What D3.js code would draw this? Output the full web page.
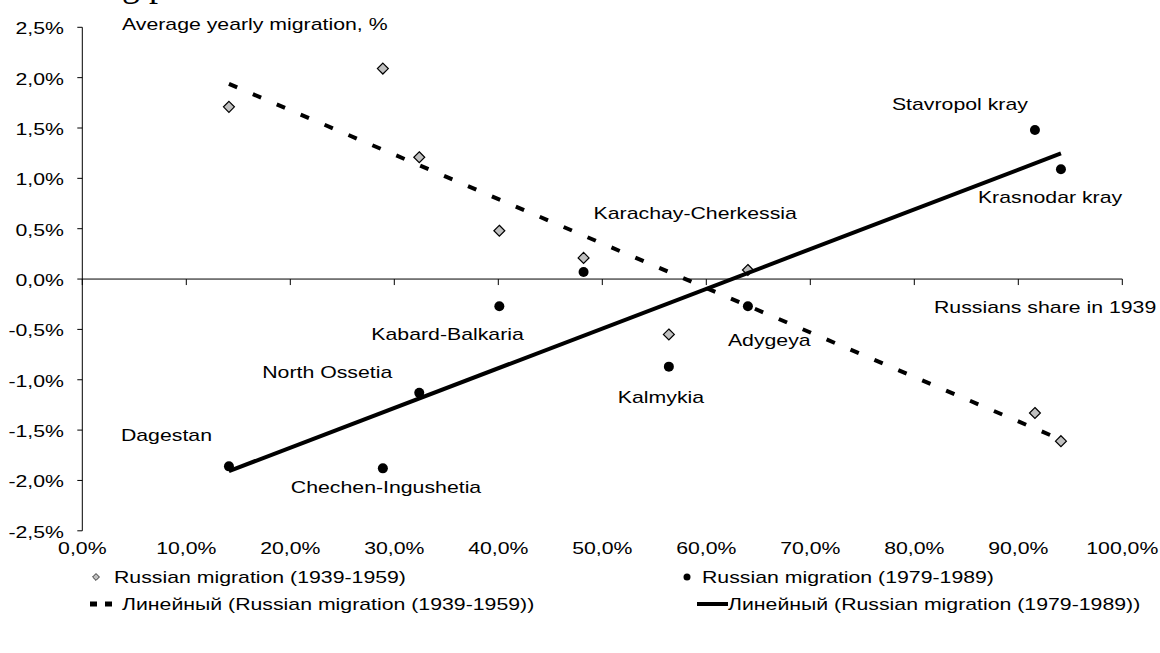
<!DOCTYPE html>
<html>
<head>
    <meta charset="utf-8">
    <style>
        body {
            margin: 0;
            background: white;
        }
        svg {
            display: block;
            font-family: 'Liberation Sans', Arial, sans-serif;
        }
    </style>
</head>
<body>
    <svg width="1160" height="653"></svg>

<script src="https://d3js.org/d3.v7.min.js"></script>
<script>
    // values
    let regions = ["Dagestan", "Chechen-Ingushetia", "North Ossetia", "Kabard-Balkaria",
        "Karachay-Cherkessia", "Kalmykia", "Adygeya", "Stavropol kray", "Krasnodar kray"]
    let russiansShare1939 = [14.1, 28.9, 32.4, 40.1, 48.2, 56.4, 64.0, 91.6, 94.1]
    let migration1939 = [1.71, 2.09, 1.21, 0.48, 0.21, -0.55, 0.09, -1.33, -1.61]
    let migration1979 = [-1.86, -1.88, -1.13, -0.27, 0.07, -0.87, -0.27, 1.48, 1.09]
    let xTicks = [0, 10, 20, 30, 40, 50, 60, 70, 80, 90, 100]
    let yTicks = [2.5, 2, 1.5, 1, 0.5, 0, -0.5, -1, -1.5, -2, -2.5]
    let legendLabels = ["Russian migration (1939-1959)", "Russian migration (1979-1989)",
        "Линейный (Russian migration (1939-1959))", "Линейный (Russian migration (1979-1989))"]

    // where each region name sits, relative to its 1979-1989 point
    let labelOffsets = [[-108, -25], [-92, 25], [-157, -15], [-128, 34], [10, -53],
        [-51, 36], [-20, 40], [-143, -20], [-83, 34]]

    let svg = d3.select("svg")
    let stretch = 1.33   // the original picture is wider than it is tall

    let x = d3.scaleLinear().domain([0, 100]).range([82.3, 1122.3])
    let y = d3.scaleLinear().domain([-2.5, 2.5]).range([530.8, 27.3])

    // excel style: comma decimals and a plain hyphen for minus
    let fmt = v => d3.format(".1f")(v).replace("−", "-").replace(".", ",") + "%"

    function label(g, txt, px, py, anchor, size) {
        return g.append("text")
            .attr("transform", `translate(${px},${py}) scale(${stretch},1)`)
            .attr("text-anchor", anchor || "start")
            .attr("font-size", size || 16)
            .attr("fill", "black")
            .text(txt)
    }

    // bit of a title cut off at the top edge
    svg.append("text")
        .attr("x", 122).attr("y", -4)
        .attr("font-family", "'Liberation Serif', 'Times New Roman', serif")
        .attr("font-size", 36)
        .text("g p")

    // y axis
    svg.append("line")
        .attr("x1", x(0)).attr("x2", x(0))
        .attr("y1", y(2.5)).attr("y2", y(-2.5))
        .attr("stroke", "black")
    svg.append("g").selectAll("line")
        .data(yTicks)
        .join("line")
        .attr("x1", x(0) - 5).attr("x2", x(0))
        .attr("y1", d => y(d)).attr("y2", d => y(d))
        .attr("stroke", "black")
    let yl = svg.append("g")
    yTicks.forEach(t => label(yl, fmt(t), 64, y(t) + 7, "end"))

    // x axis crosses at zero, labels sit at the bottom
    svg.append("line")
        .attr("x1", x(0)).attr("x2", x(100))
        .attr("y1", y(0)).attr("y2", y(0))
        .attr("stroke", "black")
    svg.append("g").selectAll("line")
        .data(xTicks)
        .join("line")
        .attr("x1", d => x(d)).attr("x2", d => x(d))
        .attr("y1", y(0)).attr("y2", y(0) + 6)
        .attr("stroke", "black")
    let xl = svg.append("g")
    xTicks.forEach(t => label(xl, fmt(t), x(t), 554, "middle"))

    label(svg, "Average yearly migration, %", 122, 30)
    label(svg, "Russians share in 1939", 934, 313)

    let diamond = d3.symbol().type(d3.symbolDiamond2)

    // markers
    svg.append("g").selectAll("path")
        .data(russiansShare1939)
        .join("path")
        .attr("d", diamond.size(76)())
        .attr("transform", (d, i) => `translate(${x(d)},${y(migration1939[i])})`)
        .attr("fill", "#c0c0c0")
        .attr("stroke", "black")
        .attr("stroke-width", 1.2)

    svg.append("g").selectAll("circle")
        .data(russiansShare1939)
        .join("circle")
        .attr("cx", d => x(d))
        .attr("cy", (d, i) => y(migration1979[i]))
        .attr("r", 5)
        .attr("fill", "black")

    // linear trends
    function linReg(xs, ys) {
        let mx = d3.mean(xs), my = d3.mean(ys)
        let sxy = d3.sum(xs, (v, i) => (v - mx) * (ys[i] - my))
        let sxx = d3.sum(xs, v => (v - mx) * (v - mx))
        let b = sxy / sxx
        return v => my + b * (v - mx)
    }
    let ends = d3.extent(russiansShare1939)
    let line = d3.line().x(d => x(d[0])).y(d => y(d[1]))

    let fit1939 = linReg(russiansShare1939, migration1939)
    svg.append("path")
        .attr("d", line(ends.map(v => [v, fit1939(v)])))
        .attr("fill", "none")
        .attr("stroke", "black")
        .attr("stroke-width", 4)
        .attr("stroke-dasharray", "9,17")

    let fit1979 = linReg(russiansShare1939, migration1979)
    svg.append("path")
        .attr("d", line(ends.map(v => [v, fit1979(v)])))
        .attr("fill", "none")
        .attr("stroke", "black")
        .attr("stroke-width", 4)

    // region names
    let names = svg.append("g")
    regions.forEach((r, i) => {
        label(names, r, x(russiansShare1939[i]) + labelOffsets[i][0],
            y(migration1979[i]) + labelOffsets[i][1])
    })

    // legend
    let lg = svg.append("g")
    lg.append("path")
        .attr("d", diamond.size(30)())
        .attr("transform", "translate(96,577)")
        .attr("fill", "#c0c0c0")
        .attr("stroke", "#333")
    label(lg, legendLabels[0], 114, 583)

    lg.append("circle")
        .attr("cx", 687).attr("cy", 577).attr("r", 3.5)
        .attr("fill", "black")
    label(lg, legendLabels[1], 702, 583)

    lg.append("line")
        .attr("x1", 90).attr("x2", 112)
        .attr("y1", 604).attr("y2", 604)
        .attr("stroke", "black")
        .attr("stroke-width", 5)
        .attr("stroke-dasharray", "7,8")
    label(lg, legendLabels[2], 122, 610)

    lg.append("line")
        .attr("x1", 697).attr("x2", 728)
        .attr("y1", 604).attr("y2", 604)
        .attr("stroke", "black")
        .attr("stroke-width", 4)
    label(lg, legendLabels[3], 728, 610)
</script>
</body>
</html>
